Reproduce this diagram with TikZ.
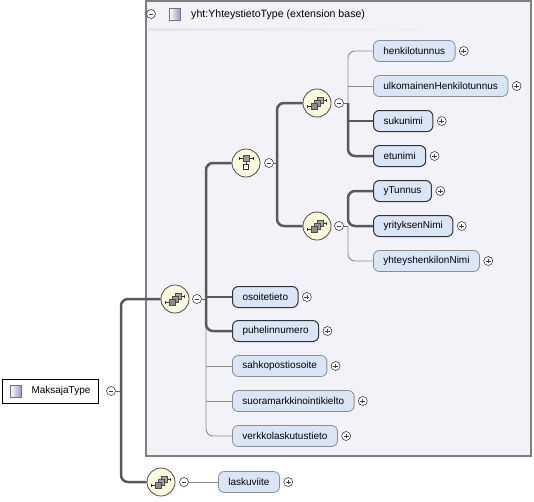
\documentclass[tikz,border=0pt]{standalone}
\usepackage{fontspec}
\setmainfont{Liberation Sans}
\usetikzlibrary{positioning}

\definecolor{extfill}{HTML}{F3F2F9}
\definecolor{elemblue}{HTML}{DAE6F7}
\definecolor{iconfill}{HTML}{FCFADC}
\definecolor{reqgray}{HTML}{595959}
\definecolor{optgray}{HTML}{8C8C8C}
\definecolor{typeviolet}{HTML}{A08CC8}

\begin{document}
\begin{tikzpicture}[x=1pt, y=-1pt, font=\fontsize{10}{12}\selectfont,
    elem/.style={rectangle, rounded corners=6pt, fill=elemblue, minimum height=21pt, inner xsep=10pt, anchor=west},
    reqelem/.style={elem, draw=black!80, line width=1pt},
    optelem/.style={elem, draw=optgray, line width=0.8pt},
    reqline/.style={draw=reqgray, line width=2.5pt, rounded corners=7pt},
    optline/.style={draw=optgray, line width=0.9pt, rounded corners=7pt},
    stub/.style={draw=black!60, line width=0.8pt},
    typeicon/.style={draw=black!55, line width=0.6pt, minimum size=11.5pt, inner sep=0pt, left color=white, right color=typeviolet},
    collapse/.style={circle, draw=black!75, fill=white, line width=0.6pt, minimum size=9pt, inner sep=0pt,
        path picture={\draw[line width=0.7pt] ([xshift=-2.4pt]path picture bounding box.center) -- ([xshift=2.4pt]path picture bounding box.center);}},
    expand/.style={collapse,
        path picture={\draw[line width=0.7pt] ([xshift=-2.4pt]path picture bounding box.center) -- ([xshift=2.4pt]path picture bounding box.center)
            ([yshift=-2.4pt]path picture bounding box.center) -- ([yshift=2.4pt]path picture bounding box.center);}},
    seqnode/.style={circle, draw=black!70, fill=iconfill, line width=0.8pt, minimum size=28pt, inner sep=0pt,
        path picture={\begin{scope}[shift={(path picture bounding box.center)}, line width=0.6pt]
            \draw[black!80] (-9.5pt,-3pt) -- (-5pt,-3pt) (-9.5pt,-4.5pt) -- (-9.5pt,-1.5pt);
            \draw[black!80] (5pt,3pt) -- (9.5pt,3pt) (9.5pt,1.5pt) -- (9.5pt,4.5pt);
            \draw[draw=black!70, fill=black!35] (0pt,0pt) rectangle (6pt,6pt);
            \draw[draw=black!70, fill=black!40] (-3pt,-3pt) rectangle (3pt,3pt);
            \draw[draw=black!70, fill=black!45] (-6pt,-6pt) rectangle (0pt,0pt);
        \end{scope}}},
    choicenode/.style={circle, draw=black!70, fill=iconfill, line width=0.8pt, minimum size=28pt, inner sep=0pt,
        path picture={\begin{scope}[shift={(path picture bounding box.center)}, line width=0.6pt]
            \draw[black!80] (-7pt,4.3pt) -- (7pt,4.3pt) (-7pt,2.8pt) -- (-7pt,5.8pt) (7pt,2.8pt) -- (7pt,5.8pt);
            \draw[black!80] (0pt,1.3pt) -- (0pt,-1pt);
            \draw[draw=black!70, fill=black!40] (-3pt,1.3pt) rectangle (3pt,7.3pt);
            \draw[draw=black!80, fill=white] (-2.4pt,-1pt) rectangle (2.4pt,-5.8pt);
        \end{scope}}}]
    \useasboundingbox (0,0) rectangle (534,501);

    % extension base
    \node[draw=black!50, line width=2pt, fill=extfill, minimum width=385pt, minimum height=455pt, inner sep=0pt] (ext) at (338.5,228.5) {};
    \node[collapse] (mExt) at (151,14) {};
    \node[typeicon] (extIcon) at (175,14.5) {};
    \node[anchor=west, inner sep=0pt, font=\fontsize{10.6}{12}\selectfont] (extTitle) at (191,14.5) {yht:YhteystietoType (extension base)};
    \shade[left color=black!10, middle color=black!60, right color=black!5] (148,28) rectangle (437,30);

    % root type
    \node[draw=black, line width=1pt, fill=white, minimum height=24pt, inner xsep=8pt, anchor=west] (maksaja) at (2,391) {\hspace{21pt}MaksajaType};
    \node[typeicon] (makIcon) at (16,391.5) {};
    \node[collapse] (mMak) at (111,391) {};

    % compositors
    \node[seqnode] (seqA) at (175,299) {};
    \node[collapse] (mA) at (197,299) {};
    \node[choicenode] (choiceB) at (246,163) {};
    \node[collapse] (mB) at (269,163) {};
    \node[seqnode] (seqC) at (317,103) {};
    \node[collapse] (mC) at (339,103) {};
    \node[seqnode] (seqD) at (317,226) {};
    \node[collapse] (mD) at (339,226) {};
    \node[seqnode] (seqE) at (161,482) {};
    \node[collapse] (mE) at (184,482) {};

    % elements
    \node[optelem] (henk) at (373,51) {henkilotunnus};
    \node[expand, right=3.5pt of henk] (henkP) {};
    \node[optelem] (ulko) at (373,86) {ulkomainenHenkilotunnus};
    \node[expand, right=3.5pt of ulko] (ulkoP) {};
    \node[reqelem] (suku) at (373,121) {sukunimi};
    \node[expand, right=3.5pt of suku] (sukuP) {};
    \node[reqelem] (etu) at (373,156) {etunimi};
    \node[expand, right=3.5pt of etu] (etuP) {};
    \node[reqelem] (ytun) at (373,191) {yTunnus};
    \node[expand, right=3.5pt of ytun] (ytunP) {};
    \node[reqelem] (yrit) at (373,226) {yrityksenNimi};
    \node[expand, right=3.5pt of yrit] (yritP) {};
    \node[optelem] (yhtey) at (373,261) {yhteyshenkilonNimi};
    \node[expand, right=3.5pt of yhtey] (yhteyP) {};
    \node[reqelem] (osoite) at (232,297) {osoitetieto};
    \node[expand, right=3.5pt of osoite] (osoiteP) {};
    \node[reqelem] (puhelin) at (232,331) {puhelinnumero};
    \node[expand, right=3.5pt of puhelin] (puhelinP) {};
    \node[optelem] (sahko) at (232,366) {sahkopostiosoite};
    \node[expand, right=3.5pt of sahko] (sahkoP) {};
    \node[optelem] (suora) at (232,401) {suoramarkkinointikielto};
    \node[expand, right=3.5pt of suora] (suoraP) {};
    \node[optelem] (verkko) at (232,436) {verkkolaskutustieto};
    \node[expand, right=3.5pt of verkko] (verkkoP) {};
    \node[optelem] (lasku) at (218,482) {laskuviite};
    \node[expand, right=3.5pt of lasku] (laskuP) {};

    % trunks
    \coordinate (tMak) at (121,391);
    \coordinate (tA) at (206,299);
    \coordinate (tB) at (277,163);
    \coordinate (tC) at (348,103);
    \coordinate (tD) at (348,226);

    \draw[stub] (mMak.east) -- (tMak);
    \draw[stub] (mA.east) -- (tA);
    \draw[stub] (mB.east) -- (tB);
    \draw[stub] (mC.east) -- (tC);
    \draw[stub] (mD.east) -- (tD);

    \draw[reqline] (seqA.west) -| (tMak) |- (seqE.west);
    \draw[optline] (mE.east) -- (lasku.west);

    \draw[optline] (tA) |- (verkko.west);
    \draw[optline] (tA |- sahko.west) -- (sahko.west);
    \draw[optline] (tA |- suora.west) -- (suora.west);
    \draw[reqline] (choiceB.west) -| (tA) |- (puhelin.west);
    \draw[reqline] (tA |- osoite.west) -- (osoite.west);

    \draw[reqline] (seqC.west) -| (tB) |- (seqD.west);

    \draw[optline] (henk.west) -| (tC);
    \draw[optline] (tC |- ulko.west) -- (ulko.west);
    \draw[reqline] (tC) |- (etu.west);
    \draw[reqline] (tC |- suku.west) -- (suku.west);

    \draw[optline] (tD) |- (yhtey.west);
    \draw[reqline] (ytun.west) -| (tD) -- (yrit.west);
\end{tikzpicture}
\end{document}
